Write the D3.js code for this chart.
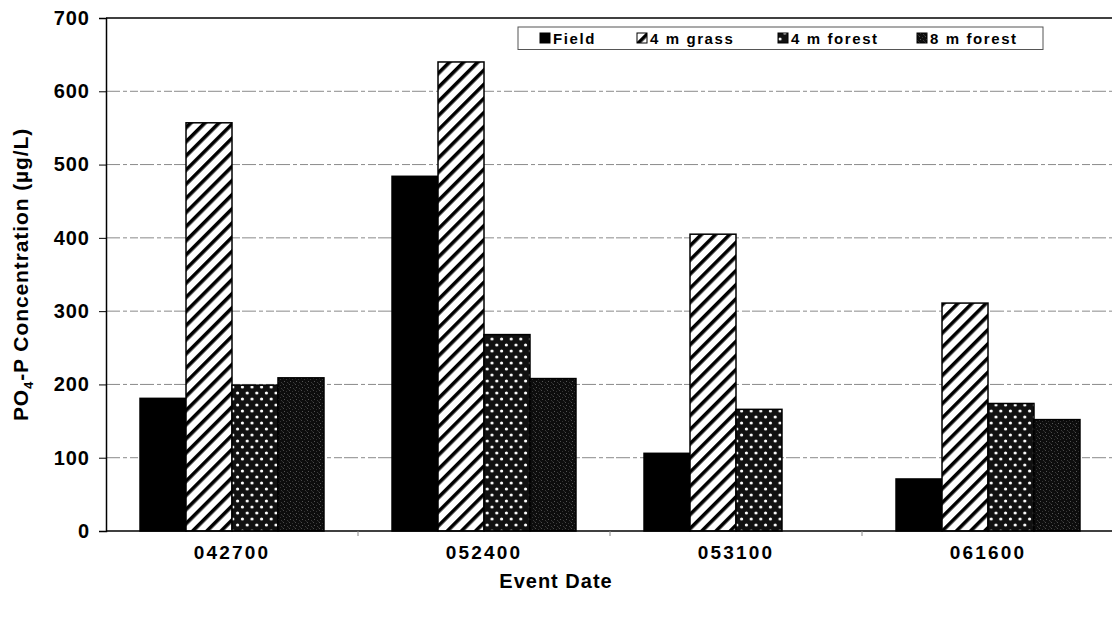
<!DOCTYPE html>
<html><head><meta charset="utf-8">
<script src="https://cdn.jsdelivr.net/npm/d3@7"></script>
<style>body{margin:0;background:#fff}svg{display:block}</style>
</head><body>
<svg id="c" width="1112" height="619"></svg>
<script>
const categories = ["042700", "052400", "053100", "061600"];
const seriesNames = ["Field", "4 m grass", "4 m forest", "8 m forest"];
const field = [181, 484, 106, 71];
const grass4 = [557, 640, 405, 311];
const forest4 = [199, 268, 166, 174];
const forest8 = [209, 208, 0, 152];
const yTicks = [0, 100, 200, 300, 400, 500, 600, 700];

const series = [field, grass4, forest4, forest8];
const svg = d3.select("#c");
const m = {l: 106, t: 18, r: 1114, b: 531};
const font = "'Liberation Sans', Arial, sans-serif";

const defs = svg.append("defs");
// diagonal hatch
const ph = defs.append("pattern").attr("id", "hatch").attr("patternUnits", "userSpaceOnUse")
  .attr("width", 10).attr("height", 10).attr("patternTransform", "rotate(45)");
ph.append("rect").attr("width", 10).attr("height", 10).attr("fill", "#fff");
ph.append("rect").attr("x", 0).attr("width", 3.6).attr("height", 10).attr("fill", "#000");
// white dots on black
const pd = defs.append("pattern").attr("id", "dots").attr("patternUnits", "userSpaceOnUse")
  .attr("width", 9.6).attr("height", 12);
pd.append("rect").attr("width", 9.6).attr("height", 12).attr("fill", "#111");
pd.append("circle").attr("cx", 2.4).attr("cy", 3).attr("r", 1.6).attr("fill", "#fff");
pd.append("circle").attr("cx", 7.2).attr("cy", 9).attr("r", 1.6).attr("fill", "#fff");
// dark stipple
const ps = defs.append("pattern").attr("id", "stip").attr("patternUnits", "userSpaceOnUse")
  .attr("width", 6).attr("height", 6);
ps.append("rect").attr("width", 6).attr("height", 6).attr("fill", "#0d0d0d");
[[1,0,"#4a4a4a"],[4,1,"#333"],[2,3,"#555"],[5,4,"#3a3a3a"],[0,5,"#2a2a2a"]].forEach(([x,y,c]) =>
  ps.append("rect").attr("x", x).attr("y", y).attr("width", 1).attr("height", 1).attr("fill", c));

const fills = ["#000", "url(#hatch)", "url(#dots)", "url(#stip)"];

const x0 = d3.scaleBand().domain(categories).range([m.l, m.r]).paddingInner(0.27).paddingOuter(0.135);
const x1 = d3.scaleBand().domain(d3.range(4)).range([0, x0.bandwidth()]);
const y = d3.scaleLinear().domain([0, 700]).range([m.b, m.t]);

// gridlines
svg.append("g").selectAll("line").data(yTicks.filter(d => d > 0 && d < 700)).join("line")
  .attr("x1", m.l).attr("x2", 1112).attr("y1", d => y(d)).attr("y2", d => y(d))
  .attr("stroke", "#8a8a8a").attr("stroke-width", 1).attr("stroke-dasharray", "14,3,4,3,8,2");
// top border
svg.append("line").attr("x1", m.l).attr("x2", 1112).attr("y1", y(700)).attr("y2", y(700))
  .attr("stroke", "#000").attr("stroke-width", 1.5);

// bars
const g = svg.append("g");
categories.forEach((c, i) => {
  series.forEach((s, j) => {
    if (s[i] <= 0) return;
    g.append("rect")
      .attr("x", x0(c) + x1(j)).attr("y", y(s[i]))
      .attr("width", x1.bandwidth()).attr("height", y(0) - y(s[i]))
      .attr("fill", fills[j]).attr("stroke", "#000").attr("stroke-width", 1.5);
  });
});

// y axis
const ya = svg.append("g").attr("transform", `translate(${m.l},0)`)
  .call(d3.axisLeft(y).tickValues(yTicks).tickSize(7).tickPadding(9));
ya.select(".domain").attr("stroke", "#000").attr("stroke-width", 1.5);
ya.selectAll(".tick line").attr("stroke", "#000");
ya.selectAll("text").attr("font-family", font).attr("font-size", 20).attr("font-weight", "bold")
  .attr("fill", "#000").attr("letter-spacing", "1px");

// x axis
const xa = svg.append("g").attr("transform", `translate(0,${m.b})`)
  .call(d3.axisBottom(x0).tickSize(0).tickPadding(15));
xa.select(".domain").attr("d", `M${m.l},0H1112`).attr("stroke", "#000").attr("stroke-width", 1.5);
xa.selectAll("text").attr("font-family", font).attr("font-size", 19).attr("font-weight", "bold")
  .attr("fill", "#000").attr("letter-spacing", "2.2px");
// boundary ticks
svg.append("g").selectAll("line").data(categories.slice(1)).join("line")
  .attr("x1", d => x0(d) - x0.step() * x0.paddingInner() / 2)
  .attr("x2", d => x0(d) - x0.step() * x0.paddingInner() / 2)
  .attr("y1", m.b).attr("y2", m.b + 5).attr("stroke", "#888");

// axis titles
svg.append("text").attr("x", 556).attr("y", 588).attr("text-anchor", "middle")
  .attr("font-family", font).attr("font-size", 20).attr("font-weight", "bold").attr("letter-spacing", "1px")
  .text("Event Date");
const yt = svg.append("text").attr("transform", `translate(28,${(m.t + m.b) / 2}) rotate(-90)`)
  .attr("text-anchor", "middle").attr("font-family", font).attr("font-size", 21).attr("font-weight", "bold")
  .attr("letter-spacing", "0.9px");
yt.append("tspan").text("PO");
yt.append("tspan").attr("font-size", 13).attr("dy", 5).text("4");
yt.append("tspan").attr("dy", -5).text("-P Concentration (\u00b5g/L)");

// legend
const lg = svg.append("g");
lg.append("rect").attr("x", 518).attr("y", 27).attr("width", 525).attr("height", 22.5)
  .attr("fill", "#fff").attr("stroke", "#555").attr("stroke-width", 1);
const lx = [540, 637, 778, 917];
seriesNames.forEach((n, i) => {
  lg.append("rect").attr("x", lx[i]).attr("y", 33).attr("width", 10).attr("height", 10)
    .attr("fill", fills[i]).attr("stroke", "#000").attr("stroke-width", 1);
  lg.append("text").attr("x", lx[i] + 13).attr("y", 44).attr("font-family", font)
    .attr("font-size", 15).attr("font-weight", "bold").attr("letter-spacing", "1.6px").text(n);
});
</script>
</body></html>
